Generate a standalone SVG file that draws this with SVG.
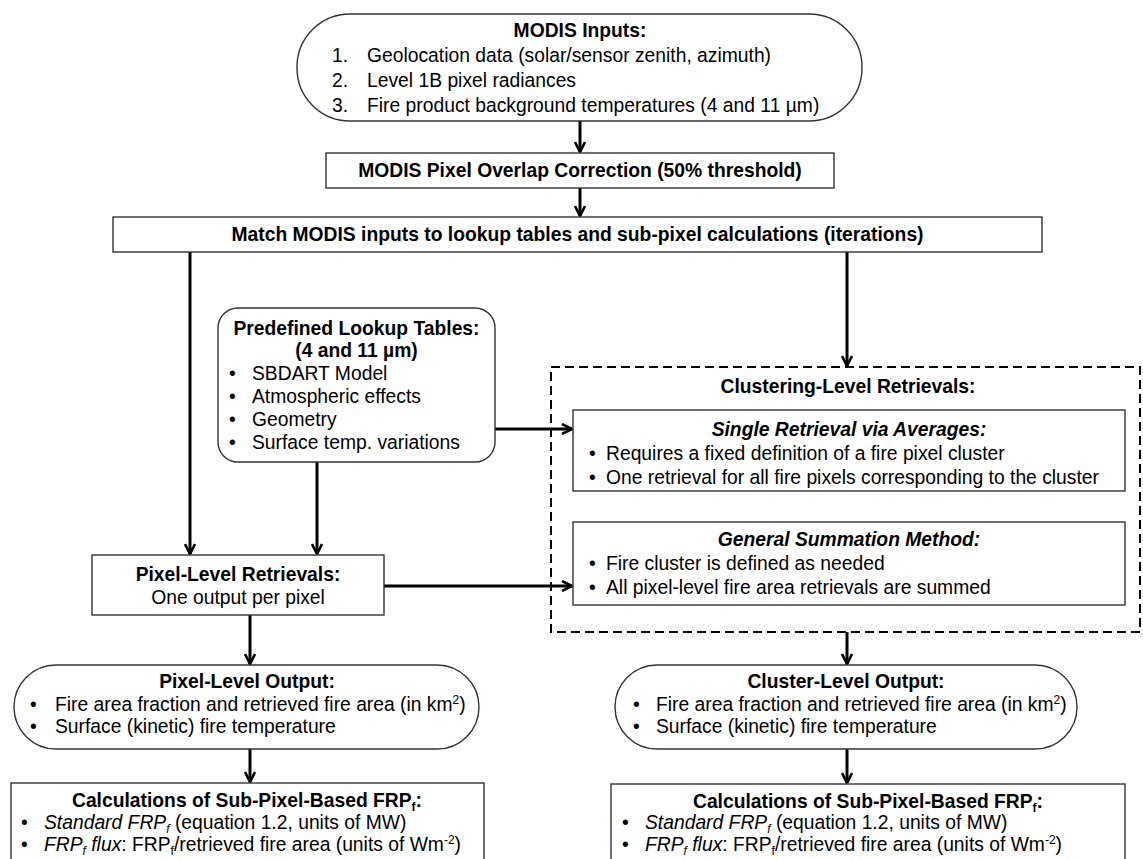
<svg xmlns="http://www.w3.org/2000/svg" width="1143" height="859" viewBox="0 0 1143 859">
<defs>
<marker id="ah" viewBox="0 0 12 12" refX="11" refY="6" markerWidth="12" markerHeight="12" markerUnits="userSpaceOnUse" orient="auto">
<path d="M1,1 L11,6 L1,11" fill="none" stroke="#000" stroke-width="2.6"/>
</marker>
<style>
text{font-family:"Liberation Sans",Arial,sans-serif;font-size:19.3px;fill:#000}
.b{font-weight:bold}
.bi{font-weight:bold;font-style:italic}
.i{font-style:italic}
.c{text-anchor:middle}
.box{fill:#fff;stroke:#333;stroke-width:1.4}
.dash{fill:none;stroke:#000;stroke-width:2;stroke-dasharray:9 5}
.con{fill:none;stroke:#000;stroke-width:3;marker-end:url(#ah)}
.sm{font-size:12px}
</style>
</defs>
<rect width="1143" height="859" fill="#fff"/>

<g id="connectors">
<line class="con" x1="580" y1="121" x2="580" y2="152"/>
<line class="con" x1="580" y1="188" x2="580" y2="216"/>
<line class="con" x1="190" y1="252" x2="190" y2="554"/>
<line class="con" x1="847" y1="252" x2="847" y2="366"/>
<line class="con" x1="317" y1="462" x2="317" y2="554"/>
<line class="con" x1="495" y1="429" x2="572" y2="429"/>
<line class="con" x1="384" y1="586" x2="572" y2="586"/>
<line class="con" x1="250" y1="615" x2="250" y2="664"/>
<line class="con" x1="250" y1="749" x2="250" y2="782"/>
<line class="con" x1="847" y1="632" x2="847" y2="664"/>
<line class="con" x1="847" y1="749" x2="847" y2="783"/>
</g>

<g id="modis-inputs">
<rect class="box" x="297" y="14" width="565" height="107" rx="53" ry="53"/>
<text class="b c" x="580" y="37">MODIS Inputs:</text>
<text x="332" y="62">1.</text><text x="367" y="62">Geolocation data (solar/sensor zenith, azimuth)</text>
<text x="332" y="87">2.</text><text x="367" y="87">Level 1B pixel radiances</text>
<text x="332" y="112">3.</text><text x="367" y="112">Fire product background temperatures (4 and 11 µm)</text>
</g>

<g id="overlap">
<rect class="box" x="326" y="153" width="508" height="35"/>
<text class="b c" x="580" y="177">MODIS Pixel Overlap Correction (50% threshold)</text>
</g>

<g id="match">
<rect class="box" x="113" y="217" width="929" height="35"/>
<text class="b c" x="577.5" y="241">Match MODIS inputs to lookup tables and sub-pixel calculations (iterations)</text>
</g>

<g id="lookup">
<rect class="box" x="218" y="308" width="277" height="154" rx="20" ry="20"/>
<text class="b c" x="356.5" y="335">Predefined Lookup Tables:</text>
<text class="b c" x="356.5" y="357">(4 and 11 µm)</text>
<text x="229" y="380">•</text><text x="252" y="380">SBDART Model</text>
<text x="229" y="403">•</text><text x="252" y="403">Atmospheric effects</text>
<text x="229" y="426">•</text><text x="252" y="426">Geometry</text>
<text x="229" y="449">•</text><text x="252" y="449">Surface temp. variations</text>
</g>

<g id="clustering">
<rect class="dash" x="551" y="367" width="589" height="265"/>
<text class="b c" x="848" y="393">Clustering-Level Retrievals:</text>
</g>

<g id="single">
<rect class="box" x="573" y="410" width="552" height="81"/>
<text class="bi c" x="849" y="436">Single Retrieval via Averages:</text>
<text x="589" y="460">•</text><text x="606" y="460">Requires a fixed definition of a fire pixel cluster</text>
<text x="589" y="484">•</text><text x="606" y="484">One retrieval for all fire pixels corresponding to the cluster</text>
</g>

<g id="general">
<rect class="box" x="573" y="522" width="552" height="83"/>
<text class="bi c" x="849" y="546">General Summation Method:</text>
<text x="589" y="570">•</text><text x="606" y="570">Fire cluster is defined as needed</text>
<text x="589" y="594">•</text><text x="606" y="594">All pixel-level fire area retrievals are summed</text>
</g>

<g id="pixel-retrievals">
<rect class="box" x="92" y="555" width="292" height="60"/>
<text class="b c" x="238" y="581">Pixel-Level Retrievals:</text>
<text class="c" x="238" y="604">One output per pixel</text>
</g>

<g id="pixel-output">
<rect class="box" x="14" y="665" width="465" height="84" rx="42" ry="42"/>
<text class="b c" x="247" y="688">Pixel-Level Output:</text>
<text x="30" y="711">•</text><text x="55" y="711">Fire area fraction and retrieved fire area (in km<tspan class="sm" dy="-7">2</tspan><tspan dy="7">)</tspan></text>
<text x="30" y="733">•</text><text x="55" y="733">Surface (kinetic) fire temperature</text>
</g>

<g id="cluster-output">
<rect class="box" x="615" y="665" width="462" height="84" rx="42" ry="42"/>
<text class="b c" x="846" y="688">Cluster-Level Output:</text>
<text x="633" y="711">•</text><text x="656" y="711">Fire area fraction and retrieved fire area (in km<tspan class="sm" dy="-7">2</tspan><tspan dy="7">)</tspan></text>
<text x="633" y="733">•</text><text x="656" y="733">Surface (kinetic) fire temperature</text>
</g>

<g id="calc-pixel">
<rect class="box" x="11" y="783" width="473" height="100"/>
<text class="b c" x="247" y="807">Calculations of Sub-Pixel-Based FRP<tspan class="sm" dy="4">f</tspan><tspan dy="-4">:</tspan></text>
<text x="21" y="829">•</text><text x="44" y="829"><tspan class="i">Standard FRP</tspan><tspan class="i sm" dy="4">f</tspan><tspan dy="-4"> (equation 1.2, units of MW)</tspan></text>
<text x="21" y="851">•</text><text x="44" y="851"><tspan class="i">FRP</tspan><tspan class="i sm" dy="4">f</tspan><tspan class="i" dy="-4"> flux</tspan>: FRP<tspan class="sm" dy="4">f</tspan><tspan dy="-4">/retrieved fire area (units of Wm</tspan><tspan class="sm" dy="-7">-2</tspan><tspan dy="7">)</tspan></text>
</g>

<g id="calc-cluster">
<rect class="box" x="611" y="784" width="514" height="100"/>
<text class="b c" x="868" y="808">Calculations of Sub-Pixel-Based FRP<tspan class="sm" dy="4">f</tspan><tspan dy="-4">:</tspan></text>
<text x="622" y="829">•</text><text x="645" y="829"><tspan class="i">Standard FRP</tspan><tspan class="i sm" dy="4">f</tspan><tspan dy="-4"> (equation 1.2, units of MW)</tspan></text>
<text x="622" y="851">•</text><text x="645" y="851"><tspan class="i">FRP</tspan><tspan class="i sm" dy="4">f</tspan><tspan class="i" dy="-4"> flux</tspan>: FRP<tspan class="sm" dy="4">f</tspan><tspan dy="-4">/retrieved fire area (units of Wm</tspan><tspan class="sm" dy="-7">-2</tspan><tspan dy="7">)</tspan></text>
</g>
</svg>
